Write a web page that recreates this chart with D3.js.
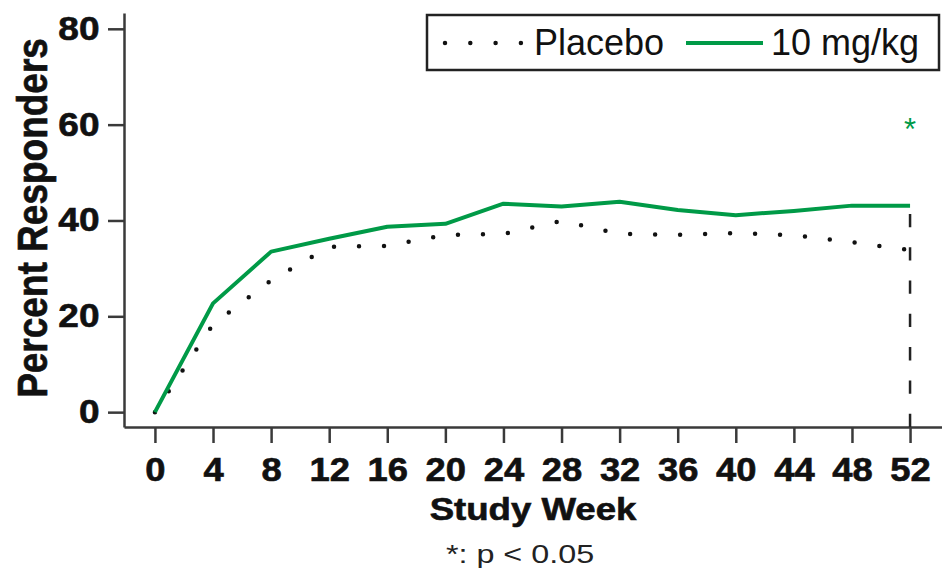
<!DOCTYPE html>
<html>
<head>
<meta charset="utf-8">
<script src="https://cdn.jsdelivr.net/npm/d3@7"></script>
<style>
  body { margin: 0; background: #fff; }
  svg { display: block; font-family: "Liberation Sans", Arial, Helvetica, sans-serif; }
  .heavy { font-weight: bold; stroke: #111; stroke-width: 0.6px; }
</style>
</head>
<body>
<div id="chart"></div>
<script>
// Study weeks and percent responders
const weeks = [0, 4, 8, 12, 16, 20, 24, 28, 32, 36, 40, 44, 48, 52];
const placebo = [0, 18.3, 27.5, 34.5, 34.7, 37.0, 37.2, 39.9, 37.2, 37.0, 37.4, 36.9, 35.5, 33.8];
const dose10 = [0, 22.7, 33.5, 36.2, 38.7, 39.3, 43.5, 42.9, 43.9, 42.2, 41.1, 42.0, 43.1, 43.1];

const seriesNames = ['Placebo', '10 mg/kg'];
const xTickValues = [0, 4, 8, 12, 16, 20, 24, 28, 32, 36, 40, 44, 48, 52];
const yTickValues = [0, 20, 40, 60, 80];
const sigWeeks = [52];
const footnote = '*: p < 0.05';

class ResponderChart {
    constructor(_config) {
        this.config = {
            parentElement: _config.parentElement,
            containerWidth: _config.containerWidth || 942,
            containerHeight: _config.containerHeight || 573,
            margin: _config.margin || {top: 13, right: 0, bottom: 146, left: 124},
            green: '#009a47',
            axisColor: '#3a3a3a'
        };
        this.initVis();
    }

    initVis() {
        let vis = this;

        vis.width = vis.config.containerWidth - vis.config.margin.left - vis.config.margin.right;
        vis.height = vis.config.containerHeight - vis.config.margin.top - vis.config.margin.bottom;

        vis.svg = d3.select(vis.config.parentElement)
            .append('svg')
                .attr('width', vis.config.containerWidth)
                .attr('height', vis.config.containerHeight);

        vis.chart = vis.svg.append('g')
            .attr('transform', `translate(${vis.config.margin.left},${vis.config.margin.top})`);

        // axes start a little before week 0 / below 0 %
        vis.xScale = d3.scaleLinear()
            .domain([-2.13, 54.2])
            .range([0, vis.width]);

        vis.yScale = d3.scaleLinear()
            .domain([-3.1, 83.3])
            .range([vis.height, 0]);

        vis.xAxis = d3.axisBottom(vis.xScale)
            .tickValues(xTickValues)
            .tickFormat(d3.format('d'))
            .tickSize(16)
            .tickPadding(15)
            .tickSizeOuter(0);

        vis.yAxis = d3.axisLeft(vis.yScale)
            .tickValues(yTickValues)
            .tickSize(16)
            .tickSizeOuter(0);

        vis.xAxisG = vis.chart.append('g')
            .attr('class', 'axis x-axis')
            .attr('transform', `translate(0,${vis.height})`);

        vis.yAxisG = vis.chart.append('g')
            .attr('class', 'axis y-axis');

        // axis titles
        vis.svg.append('text')
            .attr('class', 'heavy')
            .attr('transform', 'translate(47,218) rotate(-90) scale(1,1.13)')
            .attr('text-anchor', 'middle')
            .style('font-size', '37px')
            .attr('fill', '#111')
            .text('Percent Responders');

        vis.svg.append('text')
            .attr('class', 'heavy')
            .attr('transform', 'translate(533,520) scale(1.2,1)')
            .attr('text-anchor', 'middle')
            .style('font-size', '30.5px')
            .attr('fill', '#111')
            .text('Study Week');

        vis.svg.append('text')
            .attr('transform', 'translate(520,563) scale(1.22,1)')
            .attr('text-anchor', 'middle')
            .style('font-size', '26.5px')
            .attr('fill', '#222')
            .text(footnote);

        vis.updateVis();
    }

    updateVis() {
        let vis = this;

        vis.placeboData = weeks.map((w, i) => ({week: w, value: placebo[i]}));
        vis.doseData = weeks.map((w, i) => ({week: w, value: dose10[i]}));

        vis.line = d3.line()
            .x(d => vis.xScale(d.week))
            .y(d => vis.yScale(d.value));

        vis.renderVis();
    }

    renderVis() {
        let vis = this;

        vis.xAxisG.call(vis.xAxis);
        vis.yAxisG.call(vis.yAxis);

        vis.chart.selectAll('.axis path, .axis line')
            .attr('stroke', vis.config.axisColor)
            .attr('stroke-width', 2.5);

        vis.xAxisG.selectAll('text')
            .attr('class', 'heavy')
            .attr('transform', 'scale(1.12,1)')
            .attr('fill', '#111')
            .style('font-size', '32.5px');

        vis.yAxisG.selectAll('text')
            .attr('class', 'heavy')
            .attr('x', -21.5)
            .attr('transform', 'scale(1.14,1)')
            .attr('fill', '#111')
            .style('font-size', '32.5px');

        // dashed drop line at the last visit
        const lastWeek = weeks[weeks.length - 1];
        vis.chart.append('line')
            .attr('x1', vis.xScale(lastWeek))
            .attr('x2', vis.xScale(lastWeek))
            .attr('y1', vis.yScale(vis.yScale.domain()[0]))
            .attr('y2', vis.yScale(dose10[dose10.length - 1]))
            .attr('stroke', '#222')
            .attr('stroke-width', 2.5)
            .attr('stroke-dasharray', '13.3,20');

        vis.chart.append('path')
            .datum(vis.placeboData)
            .attr('class', 'line placebo')
            .attr('d', vis.line)
            .attr('fill', 'none')
            .attr('stroke', '#111')
            .attr('stroke-width', 4.5)
            .attr('stroke-linecap', 'round')
            .attr('stroke-dasharray', '0,25');

        vis.chart.append('path')
            .datum(vis.doseData)
            .attr('class', 'line dose')
            .attr('d', vis.line)
            .attr('fill', 'none')
            .attr('stroke', vis.config.green)
            .attr('stroke-width', 4)
            .attr('stroke-linejoin', 'round');

        // significance marks
        vis.chart.selectAll('.sig')
            .data(sigWeeks)
        .join('text')
            .attr('class', 'sig')
            .attr('x', d => vis.xScale(d))
            .attr('y', vis.yScale(60))
            .attr('dy', '0.5em')
            .attr('text-anchor', 'middle')
            .attr('fill', vis.config.green)
            .style('font-size', '31px')
            .text('*');

        // legend
        const legend = vis.svg.append('g').attr('class', 'legend');
        legend.append('rect')
            .attr('x', 427)
            .attr('y', 15)
            .attr('width', 512)
            .attr('height', 55)
            .attr('fill', '#fff')
            .attr('stroke', '#222')
            .attr('stroke-width', 2.5);

        legend.append('line')
            .attr('x1', 445).attr('x2', 523)
            .attr('y1', 43).attr('y2', 43)
            .attr('stroke', '#111')
            .attr('stroke-width', 4.5)
            .attr('stroke-linecap', 'round')
            .attr('stroke-dasharray', '0,25.3');

        legend.append('text')
            .attr('x', 534)
            .attr('y', 55)
            .attr('fill', '#111')
            .style('font-size', '36px')
            .text(seriesNames[0]);

        legend.append('line')
            .attr('x1', 686).attr('x2', 763)
            .attr('y1', 43).attr('y2', 43)
            .attr('stroke', vis.config.green)
            .attr('stroke-width', 4);

        legend.append('text')
            .attr('x', 771)
            .attr('y', 55)
            .attr('fill', '#111')
            .style('font-size', '36px')
            .text(seriesNames[1]);
    }
}

new ResponderChart({parentElement: '#chart'});
</script>
</body>
</html>
